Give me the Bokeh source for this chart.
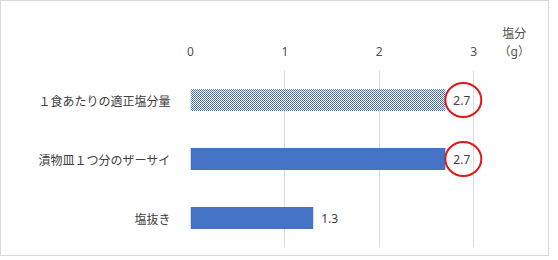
from bokeh.plotting import figure
from bokeh.models import ColumnDataSource, FactorRange, Range1d, FixedTicker
from bokeh.core.properties import value
from bokeh.embed import file_html
from bokeh.resources import INLINE

categories = ["１食あたりの適正塩分量", "漬物皿１つ分のザーサイ", "塩抜き"]
salt_g = [2.7, 2.7, 1.3]
hatched = [True, False, False]
circled = [True, True, False]
x_ticks = [0, 1, 2, 3]
unit_label = "塩分\n（g）"

BLUE = "#4472C4"
RED = "#e01818"
JP = "Noto Sans CJK JP"

W, H = 549, 256
LEFT, TOP, BOTTOM = 189, 69, 10
x_end = 3.56
px_per_unit = 94.45
frame_w = round(x_end * px_per_unit)
RIGHT = W - LEFT - frame_w
unit_pos = 3.43  # where the unit caption sits along the top axis

p = figure(width=W, height=H, output_backend="svg", toolbar_location=None,
           y_range=FactorRange(*reversed(categories), range_padding=0),
           x_range=Range1d(0, x_end), x_axis_location="above",
           min_border_left=LEFT, min_border_right=RIGHT,
           min_border_top=TOP, min_border_bottom=BOTTOM,
           styles={"border": "1px solid #d9d9d9"})
p.outline_line_color = None
p.background_fill_color = "white"
p.border_fill_color = "white"

plain = ColumnDataSource(dict(cat=[c for c, h in zip(categories, hatched) if not h],
                              v=[v for v, h in zip(salt_g, hatched) if not h]))
hatch = ColumnDataSource(dict(cat=[c for c, h in zip(categories, hatched) if h],
                              v=[v for v, h in zip(salt_g, hatched) if h]))

p.hbar(y="cat", right="v", left=0, height=0.37, source=plain,
       fill_color=BLUE, line_color=None)
p.hbar(y="cat", right="v", left=0, height=0.37, source=hatch,
       fill_color="white", line_color=None,
       hatch_pattern="diagonal_cross", hatch_color="#3b64ad",
       hatch_scale=2, hatch_weight=1)

labels = ColumnDataSource(dict(cat=categories, v=salt_g,
                               t=[f"{v:.1f}" for v in salt_g]))
p.text(x="v", y="cat", text="t", source=labels, x_offset=8,
       text_align="left", text_baseline="middle",
       text_font=value("Noto Sans"), text_font_size="12px", text_color="#404040")

circ_off = 18 / px_per_unit
circ = ColumnDataSource(dict(cat=[c for c, k in zip(categories, circled) if k],
                             cx=[v + circ_off for v, k in zip(salt_g, circled) if k]))
p.ellipse(x="cx", y="cat", width=36, height=34, width_units="screen",
          height_units="screen", source=circ, fill_color=None,
          line_color=RED, line_width=2)

xa = p.xaxis[0]
xa.ticker = FixedTicker(ticks=x_ticks + [unit_pos])
xa.major_label_overrides = {unit_pos: unit_label}
xa.axis_line_color = None
xa.major_tick_line_color = None
xa.minor_tick_line_color = None
xa.major_label_text_font = "'Noto Sans', 'Noto Sans CJK JP'"
xa.major_label_text_font_size = "12px"
xa.major_label_text_color = "#505050"
xa.major_label_text_line_height = 1.05
xa.major_label_standoff = 5

ya = p.yaxis[0]
ya.axis_line_color = None
ya.major_tick_line_color = None
ya.minor_tick_line_color = None
ya.major_label_text_font = JP
ya.major_label_text_font_size = "12px"
ya.major_label_text_color = "#404040"
ya.major_label_standoff = 14

p.xgrid.ticker = FixedTicker(ticks=x_ticks)
p.xgrid.grid_line_color = "#d9d9d9"
p.ygrid.grid_line_color = None

open("out.html", "w").write(file_html(p, INLINE))
